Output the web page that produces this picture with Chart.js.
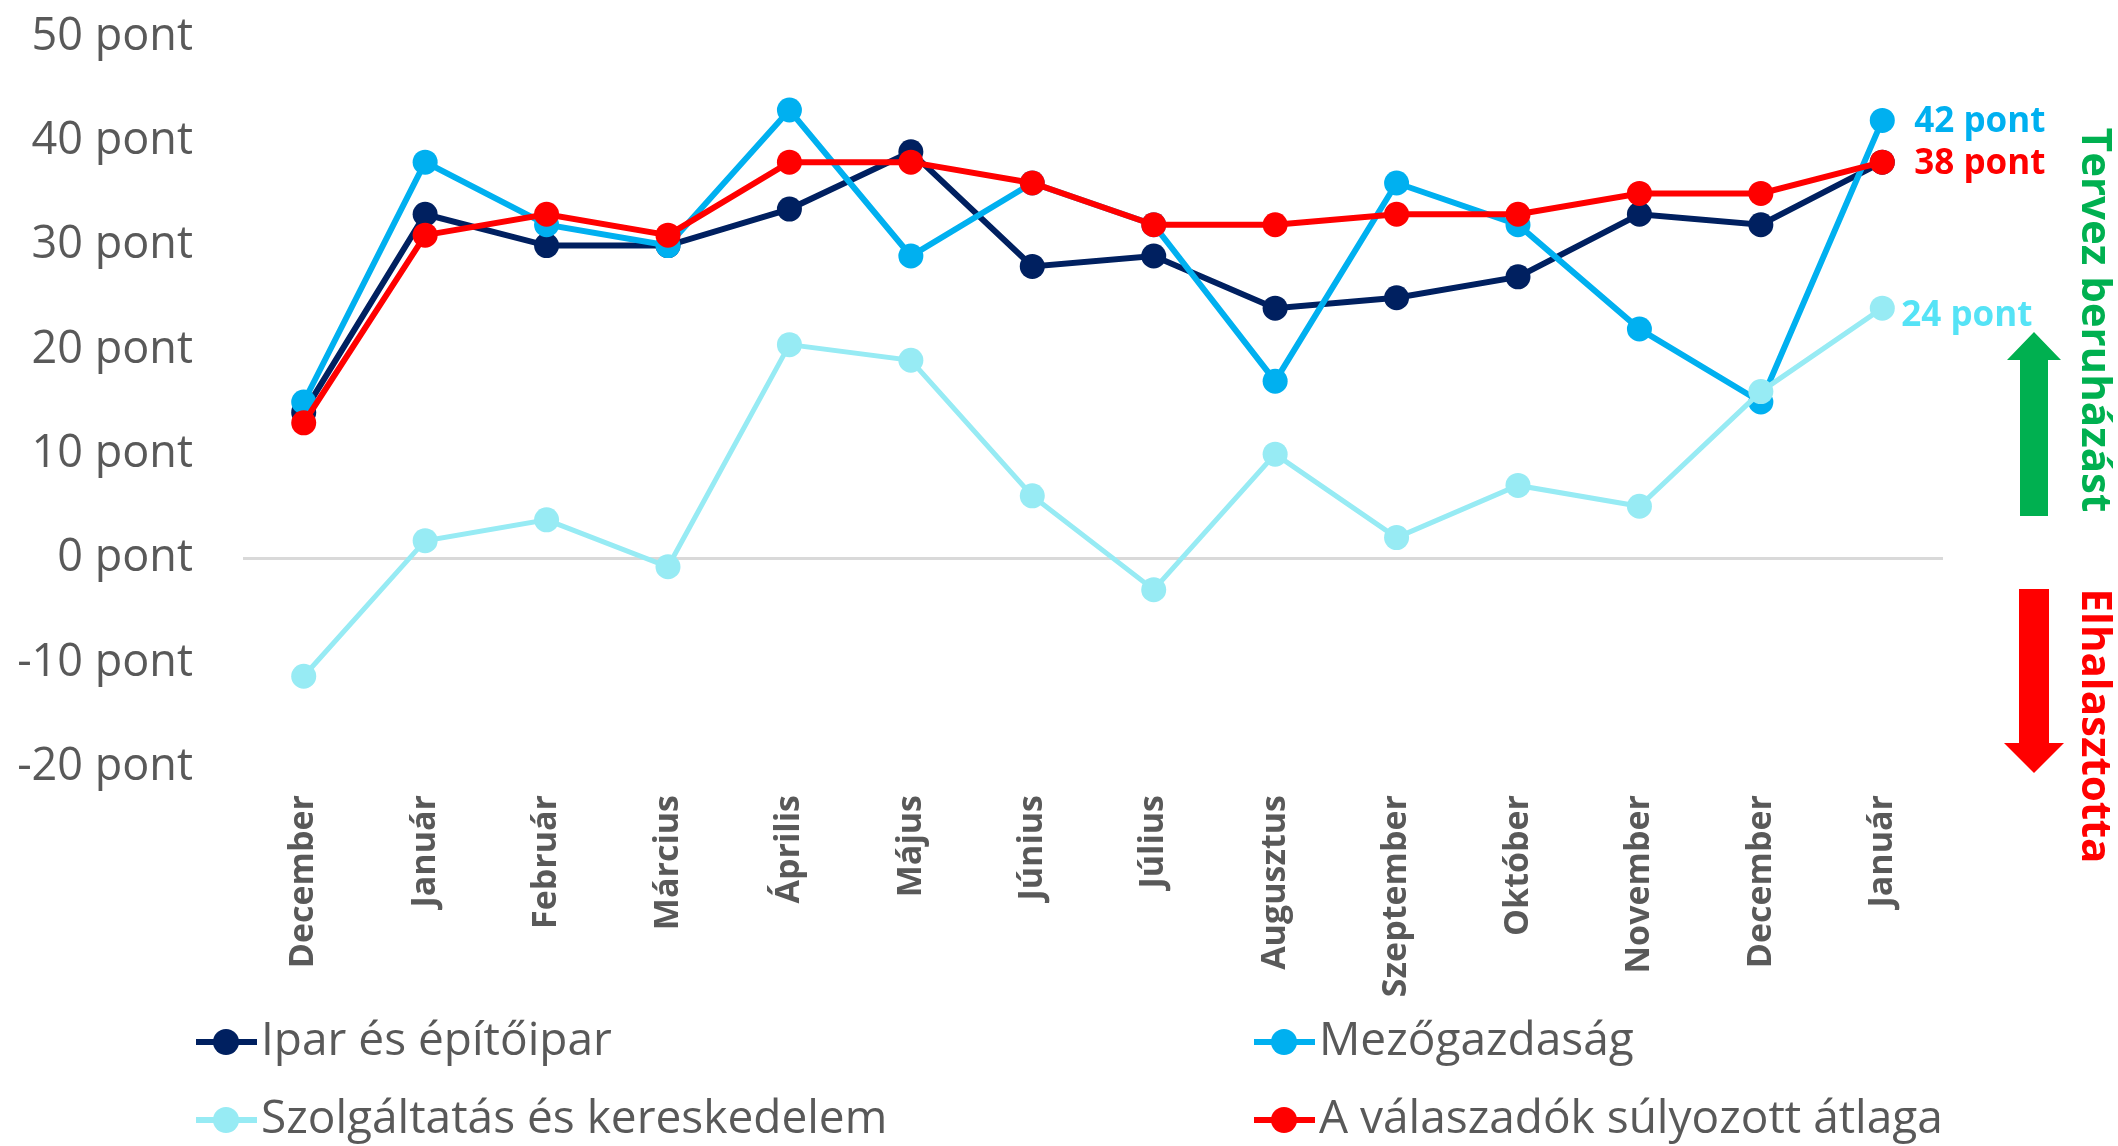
<!DOCTYPE html>
<html lang="hu">
<head>
<meta charset="utf-8">
<title>Beruházási tervek</title>
<script src="https://cdn.jsdelivr.net/npm/chart.js@4.4.1/dist/chart.umd.min.js"></script>
<style>
  html, body { margin: 0; padding: 0; background: #ffffff; }
  #chart { display: block; }
</style>
</head>
<body>
<canvas id="chart" width="2118" height="1146"></canvas>
<script>
// hónapok (x tengely)
const categories = ['December', 'Január', 'Február', 'Március', 'Április', 'Május', 'Június',
  'Július', 'Augusztus', 'Szeptember', 'Október', 'November', 'December', 'Január'];

// értékek (pont)
const ipar = [14, 33, 30, 30, 33.5, 39, 28, 29, 24, 25, 27, 33, 32, 38];
const mezo = [15, 38, 32, 30, 43, 29, 36, 32, 17, 36, 32, 22, 15, 42];
const szolg = [-11.3, 1.7, 3.7, -0.8, 20.5, 19, 6, -3, 10, 2, 7, 5, 16, 24];
const atlag = [13, 31, 33, 31, 38, 38, 36, 32, 32, 33, 33, 35, 35, 38];

const seriesNames = ['Ipar és építőipar', 'Mezőgazdaság', 'Szolgáltatás és kereskedelem', 'A válaszadók súlyozott átlaga'];

// y tengely
const yMin = -20;
const yMax = 50;
const yStep = 10;
const unit = ' pont';

const sideTexts = ['Tervez beruházást', 'Elhalasztotta'];

const GREY = '#595959';
const FONT = '"Open Sans", "Noto Sans", sans-serif';

function makeDataset(label, data, color, lineWidth, order, endLabel) {
  return {
    label: label,
    data: data,
    borderColor: color,
    backgroundColor: color,
    pointBackgroundColor: color,
    pointBorderColor: color,
    borderWidth: lineWidth,
    pointRadius: 12.5,
    pointHoverRadius: 12.5,
    pointBorderWidth: 0,
    tension: 0,
    fill: false,
    order: order,
    endLabel: endLabel // utolsó érték felirata
  };
}

// saját jelmagyarázat: vonal + kör, két oszlopban
const legendPlugin = {
  id: 'customLegend',
  afterDraw(chart) {
    const ctx = chart.ctx;
    const cols = [196, 1254];
    const rows = [1042, 1120];
    ctx.save();
    chart.data.datasets.forEach((ds, i) => {
      const x = cols[i % 2];
      const y = rows[Math.floor(i / 2)];
      ctx.strokeStyle = ds.borderColor;
      ctx.lineWidth = 6;
      ctx.beginPath();
      ctx.moveTo(x, y);
      ctx.lineTo(x + 61, y);
      ctx.stroke();
      ctx.fillStyle = ds.borderColor;
      ctx.beginPath();
      ctx.arc(x + 30, y, 13, 0, Math.PI * 2);
      ctx.fill();
      ctx.fillStyle = GREY;
      ctx.font = '46px ' + FONT;
      ctx.textAlign = 'left';
      ctx.textBaseline = 'middle';
      ctx.fillText(ds.label, x + 65, y);
    });
    ctx.restore();
  }
};

// utolsó pont melletti feliratok
const endLabelPlugin = {
  id: 'endLabels',
  afterDatasetsDraw(chart) {
    const ctx = chart.ctx;
    ctx.save();
    ctx.font = 'bold 35px ' + FONT;
    ctx.textAlign = 'left';
    ctx.textBaseline = 'middle';
    chart.data.datasets.forEach((ds, i) => {
      if (!ds.endLabel) return;
      const meta = chart.getDatasetMeta(i);
      const last = meta.data[meta.data.length - 1];
      const value = ds.data[ds.data.length - 1];
      ctx.fillStyle = ds.endLabel.color;
      ctx.fillText(value + unit, last.x + ds.endLabel.dx, last.y + ds.endLabel.dy);
    });
    ctx.restore();
  }
};

// jobb oldali nyilak és függőleges szövegek
const sidePlugin = {
  id: 'sideArrows',
  afterDraw(chart) {
    const ctx = chart.ctx;
    const cx = 2034;
    ctx.save();
    // zöld nyíl felfelé
    ctx.fillStyle = '#00B050';
    ctx.beginPath();
    ctx.moveTo(cx - 14, 516);
    ctx.lineTo(cx - 14, 360);
    ctx.lineTo(cx - 27, 360);
    ctx.lineTo(cx, 332);
    ctx.lineTo(cx + 27, 360);
    ctx.lineTo(cx + 14, 360);
    ctx.lineTo(cx + 14, 516);
    ctx.closePath();
    ctx.fill();
    // piros nyíl lefelé
    ctx.fillStyle = '#FF0000';
    ctx.beginPath();
    ctx.moveTo(cx - 15, 589);
    ctx.lineTo(cx - 15, 743);
    ctx.lineTo(cx - 30, 743);
    ctx.lineTo(cx, 773);
    ctx.lineTo(cx + 30, 743);
    ctx.lineTo(cx + 15, 743);
    ctx.lineTo(cx + 15, 589);
    ctx.closePath();
    ctx.fill();

    ctx.font = 'bold 42px ' + FONT;
    ctx.textAlign = 'center';
    ctx.textBaseline = 'middle';
    ctx.fillStyle = '#00B050';
    ctx.save();
    ctx.translate(2094, 320);
    ctx.rotate(Math.PI / 2);
    ctx.fillText(sideTexts[0], 0, 0);
    ctx.restore();
    ctx.fillStyle = '#FF0000';
    ctx.save();
    ctx.translate(2094, 726);
    ctx.rotate(Math.PI / 2);
    ctx.fillText(sideTexts[1], 0, 0);
    ctx.restore();
    ctx.restore();
  }
};

function createChart() {
  const ctx = document.getElementById('chart').getContext('2d');
  new Chart(ctx, {
    type: 'line',
    data: {
      labels: categories,
      datasets: [
        makeDataset(seriesNames[0], ipar, '#002060', 6, 4, null),
        makeDataset(seriesNames[1], mezo, '#00B0F0', 6, 3, { color: '#00B0F0', dx: 32, dy: 2 }),
        makeDataset(seriesNames[2], szolg, '#97EBF4', 5, 2, { color: '#55E3F6', dx: 19, dy: 8 }),
        makeDataset(seriesNames[3], atlag, '#FF0000', 6, 1, { color: '#FF0000', dx: 32, dy: 2 })
      ]
    },
    options: {
      responsive: false,
      devicePixelRatio: 1,
      animation: false,
      layout: {
        autoPadding: false,
        padding: { top: 37, right: 175, left: 0, bottom: 0 }
      },
      plugins: {
        legend: { display: false },
        tooltip: { enabled: false }
      },
      scales: {
        x: {
          offset: true,
          grid: { display: false, drawTicks: false },
          border: { display: false },
          ticks: {
            autoSkip: false,
            minRotation: 90,
            maxRotation: 90,
            padding: 28,
            color: GREY,
            font: { family: FONT, size: 34, weight: 'bold' }
          },
          afterFit(scale) {
            scale.height = 379;
            scale.paddingLeft = 0;
            scale.paddingRight = 0;
          }
        },
        y: {
          min: yMin,
          max: yMax,
          grid: {
            drawTicks: false,
            lineWidth: 3,
            color: (c) => (c.tick && c.tick.value === 0 ? '#D9D9D9' : 'rgba(0,0,0,0)')
          },
          border: { display: false },
          ticks: {
            stepSize: yStep,
            padding: 50,
            color: GREY,
            font: { family: FONT, size: 45 },
            callback: (v) => v + unit
          },
          afterFit(scale) {
            scale.width = 243;
            scale.paddingTop = 0;
            scale.paddingBottom = 0;
          }
        }
      }
    },
    plugins: [legendPlugin, endLabelPlugin, sidePlugin]
  });
}

if (document.fonts && document.fonts.load) {
  Promise.all([
    document.fonts.load('45px "Open Sans"'),
    document.fonts.load('bold 33px "Open Sans"')
  ]).then(createChart, createChart);
} else {
  createChart();
}
</script>
</body>
</html>
